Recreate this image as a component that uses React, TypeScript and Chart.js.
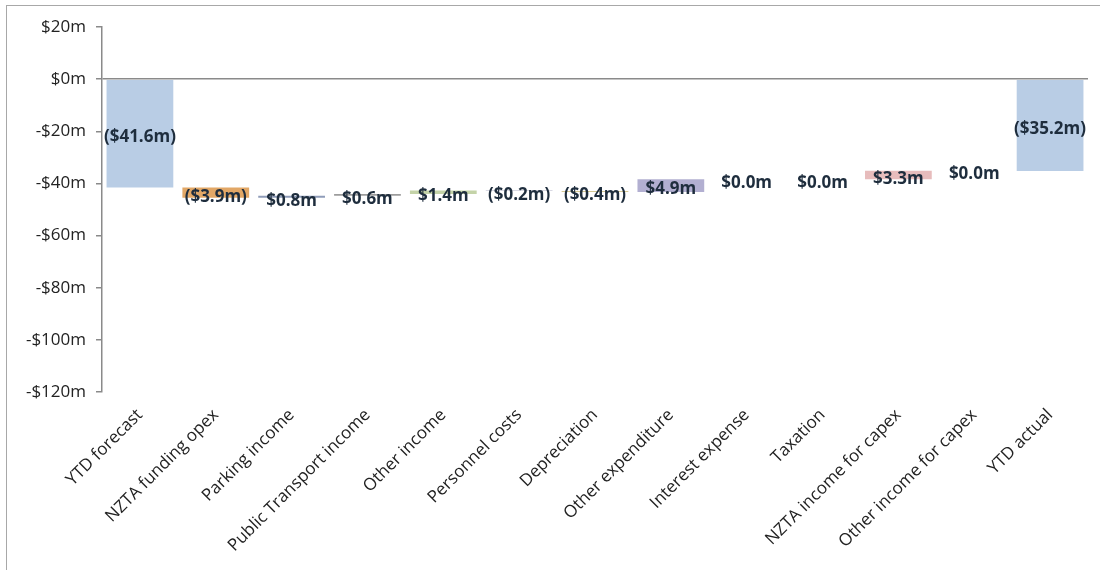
import React, { useEffect, useRef } from "react";
import { Chart, registerables } from "chart.js";

Chart.register(...registerables);

const categories = [
  "YTD forecast",
  "NZTA funding opex",
  "Parking income",
  "Public Transport income",
  "Other income",
  "Personnel costs",
  "Depreciation",
  "Other expenditure",
  "Interest expense",
  "Taxation",
  "NZTA income for capex",
  "Other income for capex",
  "YTD actual",
];

const ytdForecast = -41.6;
const changes = [-3.9, 0.8, 0.6, 1.4, -0.2, -0.4, 4.9, 0.0, 0.0, 3.3, 0.0];
const ytdActual = -35.2;

const yTicks = [20, 0, -20, -40, -60, -80, -100, -120];

const barColors = [
  "#b9cde5",
  "#e2a766",
  "#8f9cb9",
  "#9c9c9c",
  "#c4d3a8",
  "#b4b4c8",
  "#d6c994",
  "#b2afd1",
  "#a0a0a0",
  "#c8c8c8",
  "#e7bcbc",
  "#c8c8c8",
  "#b9cde5",
];

function fmtLabel(v: number) {
  const a = Math.abs(v).toFixed(1);
  return v < 0 ? `($${a}m)` : `$${a}m`;
}

export default function App() {
  const ref = useRef<HTMLCanvasElement | null>(null);

  useEffect(() => {
    document.body.style.margin = "0";
    const ranges: [number, number][] = [];
    const labelValues: number[] = [];
    ranges.push([0, ytdForecast]);
    labelValues.push(ytdForecast);
    let run = ytdForecast;
    for (const c of changes) {
      ranges.push([run, run + c]);
      labelValues.push(c);
      run = run + c;
    }
    ranges.push([0, ytdActual]);
    labelValues.push(ytdActual);

    const labelPlugin = {
      id: "wfLabels",
      afterDatasetsDraw(chart: any) {
        const ctx = chart.ctx;
        const meta = chart.getDatasetMeta(0);
        const ys = chart.scales.y;
        ctx.save();
        ctx.font = "bold 17px 'Open Sans'";
        ctx.fillStyle = "#1e2d3d";
        ctx.textAlign = "center";
        ctx.textBaseline = "middle";
        meta.data.forEach((el: any, i: number) => {
          const r = ranges[i];
          const cy = (ys.getPixelForValue(r[0]) + ys.getPixelForValue(r[1])) / 2;
          ctx.fillText(fmtLabel(labelValues[i]), el.x, cy + 4);
        });
        ctx.restore();
      },
    };

    const chart = new Chart(ref.current as HTMLCanvasElement, {
      type: "bar",
      data: {
        labels: categories,
        datasets: [
          {
            data: ranges as any,
            backgroundColor: barColors,
            borderWidth: 0,
            barPercentage: 0.88,
            categoryPercentage: 1,
          },
        ],
      },
      options: {
        animation: false,
        responsive: false,
        maintainAspectRatio: false,
        layout: { padding: { top: 27, right: 12, left: 0, bottom: 0 } },
        plugins: { legend: { display: false }, tooltip: { enabled: false } },
        scales: {
          x: {
            grid: { display: false },
            border: { display: false },
            ticks: {
              maxRotation: 45,
              minRotation: 45,
              autoSkip: false,
              padding: 5,
              color: "#222",
              font: { family: "'Open Sans'", size: 17 },
            },
            afterFit(scale: any) {
              scale.height = 178;
            },
          },
          y: {
            min: -120,
            max: 20,
            afterBuildTicks(scale: any) {
              scale.ticks = yTicks.map((v) => ({ value: v }));
            },
            grid: {
              drawOnChartArea: true,
              tickLength: 6,
              color: (c: any) => (c.tick && c.tick.value === 0 ? "#8a8a8a" : "rgba(0,0,0,0)"),
              tickColor: "#8a8a8a",
              lineWidth: 1.5,
            },
            border: { display: true, color: "#8a8a8a", width: 1.5 },
            ticks: {
              padding: 10,
              color: "#222",
              font: { family: "'Open Sans'", size: 17 },
              callback: (v: any) => (v < 0 ? `-$${-v}m` : `$${v}m`),
            },
            afterFit(scale: any) {
              scale.width = 102;
            },
          },
        },
      },
      plugins: [labelPlugin],
    });
    return () => chart.destroy();
  }, []);

  return (
    <div style={{ position: "relative", width: 1100, height: 570, overflow: "hidden", background: "#fff" }}>
      <div
        style={{
          position: "absolute",
          left: 6,
          top: 5,
          width: 1200,
          height: 700,
          borderLeft: "1.5px solid #a8a8a8",
          borderTop: "1.5px solid #a8a8a8",
        }}
      />
      <canvas ref={ref} width={1100} height={570} style={{ position: "absolute", left: 0, top: 0 }} />
    </div>
  );
}
